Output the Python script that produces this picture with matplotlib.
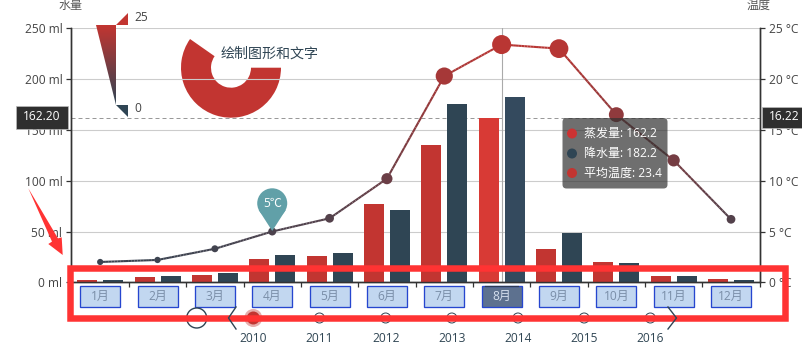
import numpy as np
import matplotlib
matplotlib.use("Agg")
import matplotlib.pyplot as plt
from matplotlib.collections import LineCollection
from matplotlib.colors import LinearSegmentedColormap
from matplotlib.patches import Circle, FancyBboxPatch, Polygon, Rectangle, Wedge

plt.rcParams['font.family'] = ['Open Sans', 'Noto Sans CJK SC', 'DejaVu Sans']

# --- DATA ---
months = ['1月', '2月', '3月', '4月', '5月', '6月', '7月', '8月', '9月', '10月', '11月', '12月']
evaporation = [2.0, 4.9, 7.0, 23.2, 25.6, 76.7, 135.6, 162.2, 32.6, 20.0, 6.4, 3.3]
rainfall = [2.6, 5.9, 9.0, 26.4, 28.7, 70.7, 175.6, 182.2, 48.7, 18.8, 6.0, 2.3]
temperature = [2.0, 2.2, 3.3, 5.0, 6.3, 10.2, 20.3, 23.4, 23.0, 16.5, 12.0, 6.2]
ml_ticks = [0, 50, 100, 150, 200, 250]
temp_ticks = [0, 5, 10, 15, 20, 25]
years = ['2010', '2011', '2012', '2013', '2014', '2015', '2016']
tooltip_rows = ['蒸发量: 162.2', '降水量: 182.2', '平均温度: 23.4']

# --- CONFIGURATION ---
W, H = 803, 357
X0, X1 = 71.5, 759.7
Y_TOP, Y_BOT = 28.3, 282.3
CAT_W = (X1 - X0) / 12
RED = '#c23531'
DARK = '#2f4554'
HOVER = 7
PX = 0.72  # points per pixel at dpi 100

temp_cmap = LinearSegmentedColormap.from_list('temp', [DARK, RED])


def overlay(zorder):
    """Full figure axes measured in pixels, origin top left."""
    a = fig.add_axes([0, 0, 1, 1], zorder=zorder)
    a.set_xlim(0, W)
    a.set_ylim(H, 0)
    a.axis('off')
    a.patch.set_alpha(0)
    return a


fig = plt.figure(figsize=(W / 100, H / 100), dpi=100)

# donut sits under the grid lines
under = overlay(-1)
under.add_patch(Wedge((231, 67.7), 50, 0, 215, width=30, color=RED, lw=0))

ax = fig.add_axes([X0 / W, 1 - Y_BOT / H, (X1 - X0) / W, (Y_BOT - Y_TOP) / H], zorder=1)
ax.patch.set_alpha(0)
ax2 = ax.twinx()
ax2.set_zorder(2)
ax2.patch.set_alpha(0)

# 1. Bars
x = np.arange(len(months))
off = 13 / CAT_W
bw = 20 / CAT_W
red_colors = ['#d83a35' if i == HOVER else RED for i in x]
dark_colors = ['#344a5e' if i == HOVER else DARK for i in x]
ax.bar(x - off, evaporation, bw, color=red_colors, zorder=3)
ax.bar(x + off, rainfall, bw, color=dark_colors, zorder=3)

ax.set_xlim(-0.5, 11.5)
ax.set_ylim(0, 250)
ax.set_yticks(ml_ticks)
ax.set_yticklabels([f'{v} ml' for v in ml_ticks])
ax.set_xticks(np.arange(13) - 0.5)
ax.set_xticklabels([])
ax.grid(axis='y', color='#cccccc', lw=0.8, zorder=1)
ax.set_axisbelow(True)
ax.axhline(evaporation[HOVER], color='#999999', lw=PX, dashes=(4, 3), zorder=2)
ax.axvline(x[HOVER], color='#aaaaaa', lw=0.8, zorder=2)

ax2.set_ylim(0, 25)
ax2.set_yticks(temp_ticks)
ax2.set_yticklabels([f'{v} °C' for v in temp_ticks])

for a in (ax, ax2):
    a.spines['top'].set_visible(False)
    for s in a.spines.values():
        s.set_color('#333333')
        s.set_linewidth(1.0)
    a.tick_params(axis='both', length=3.6, width=0.9, color='#333333', pad=3,
                  labelsize=8.64, labelcolor='#444444')

# 2. Temperature line, coloured by value like the visualMap does
segs, seg_vals = [], []
for i in range(len(x) - 1):
    xs = np.linspace(x[i], x[i + 1], 21)
    ys = np.linspace(temperature[i], temperature[i + 1], 21)
    for j in range(20):
        segs.append([(xs[j], ys[j]), (xs[j + 1], ys[j + 1])])
        seg_vals.append((ys[j] + ys[j + 1]) / 2)
lc = LineCollection(segs, cmap=temp_cmap, norm=plt.Normalize(0, 25), linewidths=1.5, zorder=4)
lc.set_array(np.array(seg_vals))
ax2.add_collection(lc)
diam = [(5 + 0.6 * t) * PX for t in temperature]
ax2.scatter(x, temperature, s=[d ** 2 for d in diam], c=temperature, cmap=temp_cmap,
            vmin=0, vmax=25, linewidths=0, zorder=5)

# 3. Everything else is laid over the chart in pixel coordinates
top = overlay(10)

# axis names
top.text(71, 5, '水量', ha='center', va='center', fontsize=8.64, color='#555555')
top.text(759, 5, '温度', ha='center', va='center', fontsize=8.64, color='#555555')

# visualMap wedge
vm_poly = Polygon([(96.3, 25), (116, 25), (116, 104.7)], closed=True, transform=top.transData,
                  fc='none', ec='none')
top.add_patch(vm_poly)
grad = np.linspace(1, 0, 128).reshape(-1, 1)
im = top.imshow(grad, cmap=temp_cmap, extent=(96, 117, 104.7, 25), aspect='auto')
im.set_clip_path(vm_poly)
top.add_patch(Polygon([(116, 25), (128, 13), (128, 25)], closed=True, color=RED, lw=0))
top.add_patch(Polygon([(116, 104.7), (128, 104.7), (128, 117)], closed=True, color=DARK, lw=0))
top.set_xlim(0, W)
top.set_ylim(H, 0)
top.text(134, 17.5, '25', va='center', fontsize=8.64, color='#444444')
top.text(134, 109, '0', va='center', fontsize=8.64, color='#444444')

top.text(221, 54, '绘制图形和文字', va='center', fontsize=10.08, color=DARK)

# marker pin above April
pin_x = X0 + (3 + 0.5) * CAT_W
top.add_patch(Polygon([(pin_x - 13.5, 210), (pin_x, 231), (pin_x + 13.5, 210)], closed=True,
                      color='#61a0a8', lw=0))
top.add_patch(Circle((pin_x, 203.3), 15, color='#61a0a8', lw=0))
top.text(pin_x, 203.3, '5℃', ha='center', va='center', fontsize=8.64, color='white')

# axisPointer value labels
top.add_patch(Rectangle((16, 106), 52, 23, fc='#2f2f2f', ec='#bbbbbb', lw=0.5))
top.text(42, 117, '162.20', ha='center', va='center', fontsize=8.64, color='white')
top.add_patch(Rectangle((762, 107), 45, 21, fc='#2f2f2f', ec='#bbbbbb', lw=0.5))
top.text(784, 117, '16.22', ha='center', va='center', fontsize=8.64, color='white')

# tooltip
top.add_patch(FancyBboxPatch((562.5, 118), 105, 70.5, boxstyle='round,pad=0,rounding_size=4',
                             fc=(50 / 255, 50 / 255, 50 / 255, 0.7), ec='none'))
for row, c, yy in zip(tooltip_rows, ['#cc3333', DARK, '#c23531'], [133.5, 153.5, 173]):
    top.add_patch(Circle((572, yy), 5, color=c, lw=0))
    top.text(584, yy, row, va='center', fontsize=8.64, color='white')

# month labels
for i, m in enumerate(months):
    cx = X0 + (i + 0.5) * CAT_W
    fc = '#5d718f' if i == HOVER else '#c2d7f0'
    tc = '#d5dfee' if i == HOVER else '#7a8ea8'
    top.add_patch(Rectangle((cx - 20, 286.3), 40, 20.4, fc=fc, ec='#2646cf', lw=0.95))
    if i == HOVER:
        top.plot([cx - 17, cx + 16], [285.7, 285.7], color='#2b3a55', lw=0.9)
    top.text(cx, 296.3, m, ha='center', va='center', fontsize=8.64, color=tc)

# timeline
TL_Y = 318
top.add_patch(Circle((196.7, TL_Y), 10, fc='white', ec=DARK, lw=1.0))
top.plot([236, 228.5, 236], [307, TL_Y, 329], color=DARK, lw=1.0)
top.plot([668, 676.5, 668], [307, TL_Y, 329], color=DARK, lw=1.0)
for i, y in enumerate(years):
    tx = 253.3 + i * 66.17
    if i == 0:
        top.add_patch(Circle((tx, TL_Y), 9, color=RED, alpha=0.4, lw=0))
        top.add_patch(Circle((tx, TL_Y), 6.5, color=RED, lw=0))
    else:
        top.add_patch(Circle((tx, TL_Y), 5, fc='white', ec=DARK, lw=0.7))
    top.text(tx, 339, y, ha='center', va='center', fontsize=8.64, color='#304654')

# hand drawn callout on top of the screenshot
CALLOUT = '#ff3333'
top.add_patch(Rectangle((69.7, 268.3), 715.8, 49.2, fc='none', ec=CALLOUT, lw=6.5 * PX))
top.add_patch(Polygon([(28.3, 188.3), (58, 238.4), (61.7, 237.3), (62.7, 255), (48.3, 244), (52, 241.6)],
                      closed=True, color=CALLOUT, lw=0))

fig.savefig('out.png', dpi=100)
